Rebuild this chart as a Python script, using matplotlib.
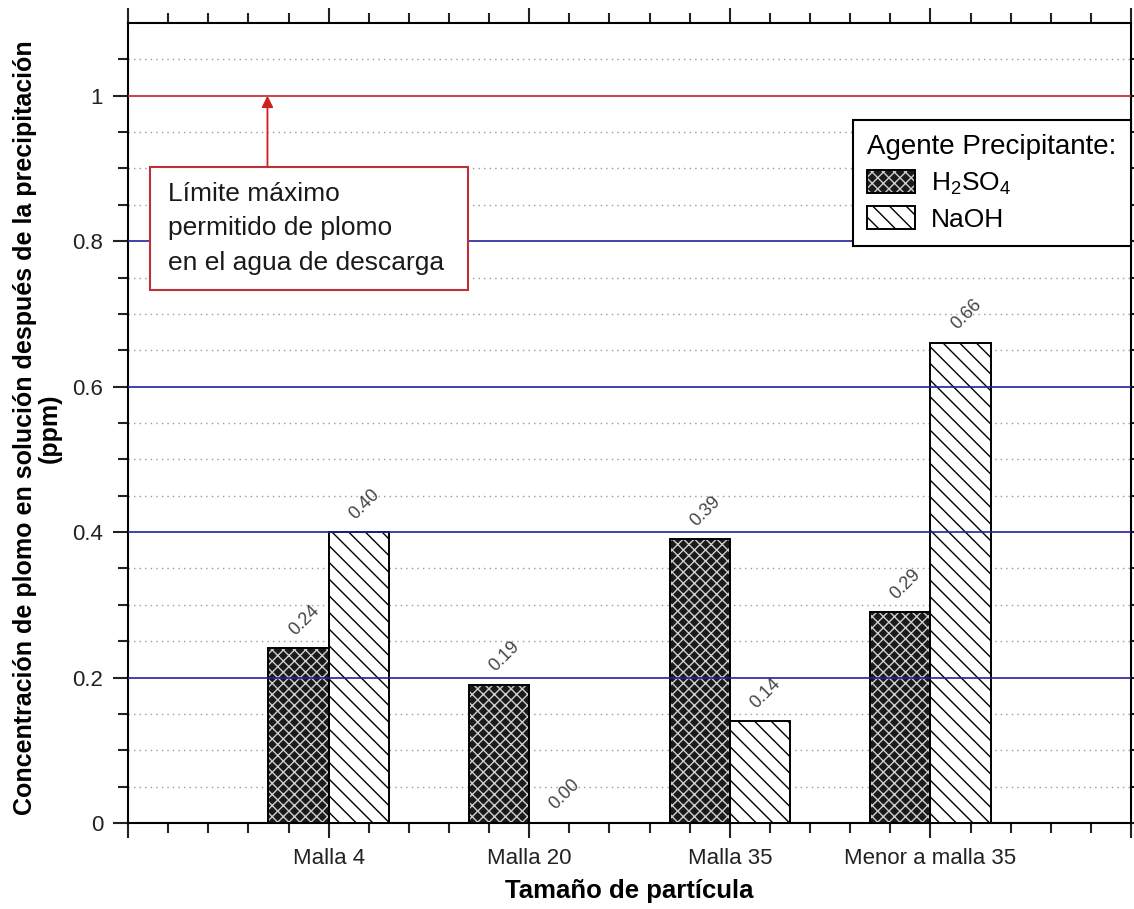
import matplotlib
matplotlib.use('Agg')
import matplotlib.pyplot as plt
from matplotlib.patches import Patch, Rectangle
import numpy as np

# datos
categorias = ['Malla 4', 'Malla 20', 'Malla 35', 'Menor a malla 35']
h2so4 = [0.24, 0.19, 0.39, 0.29]
naoh = [0.40, 0.00, 0.14, 0.66]
limite = 1.0
yticks = [0, 0.2, 0.4, 0.6, 0.8, 1.0]
ytick_labels = ['0', '0.2', '0.4', '0.6', '0.8', '1']

plt.rcParams['font.family'] = ['Liberation Sans', 'DejaVu Sans']
plt.rcParams['mathtext.default'] = 'regular'
plt.rcParams['hatch.linewidth'] = 1.0

fig = plt.figure(figsize=(11.34, 9.09), dpi=100)
ax = fig.add_axes([0.1129, 0.0946, 0.8845, 0.8801])

x = np.arange(len(categorias))
w = 0.3
oscuro = '#1a1a1a'
trama = '#cfcfcf'
rayas = '\\\\'

# H2SO4: fondo oscuro con trama clara, luego el contorno
ax.bar(x - w/2, h2so4, w, color=oscuro, edgecolor=trama, hatch='xxx', linewidth=0, zorder=3)
ax.bar(x - w/2, h2so4, w, fill=False, edgecolor='black', linewidth=1.4, zorder=4)
ax.bar(x + w/2, naoh, w, color='white', edgecolor='black', hatch=rayas, linewidth=1.4, zorder=3)

for xi, v in zip(x - w/2, h2so4):
    ax.annotate(f'{v:.2f}', (xi, v), xytext=(4, 7), textcoords='offset points',
                rotation=45, ha='center', va='bottom', fontsize=13, color='#444444')
for xi, v in zip(x + w/2, naoh):
    ax.annotate(f'{v:.2f}', (xi, v), xytext=(4, 7), textcoords='offset points',
                rotation=45, ha='center', va='bottom', fontsize=13, color='#444444')

ax.set_xlim(-1, len(categorias))
ax.set_ylim(0, 1.1)

ax.set_xticks(np.arange(-1, len(categorias) + 1))
ax.set_xticklabels([''] + categorias + [''])
ax.set_xticks(np.arange(-5, 21) * 0.2, minor=True)
ax.set_yticks(yticks)
ax.set_yticklabels(ytick_labels)
ax.set_yticks(np.arange(1, 22) * 0.05, minor=True)

ax.tick_params(which='both', direction='out', top=True, right=True, width=1.5, labelsize=16, colors='#222222')
ax.tick_params(which='major', length=11, pad=7)
ax.tick_params(which='minor', length=7)
for s in ax.spines.values():
    s.set_linewidth(1.5)

ax.set_axisbelow(True)
ax.yaxis.grid(True, which='minor', linestyle=(0, (1, 3)), color='#9a9a9a', linewidth=1.0)
for yv in yticks[1:-1]:
    ax.axhline(yv, color='#23239b', linewidth=1.2, zorder=5)
ax.axhline(limite, color='#cc2020', linewidth=1.2, zorder=5)

# recuadro del limite
ax.add_patch(Rectangle((-0.89, 0.733), 1.585, 0.169, facecolor='white', edgecolor='#c0303a', linewidth=1.5, zorder=6))
ax.text(-0.80, 0.818, 'Límite máximo\npermitido de plomo\nen el agua de descarga',
        ha='left', va='center', fontsize=19, linespacing=1.55, color='#1a1a1a', zorder=7)
ax.annotate('', xy=(-0.305, limite), xytext=(-0.305, 0.902),
            arrowprops=dict(arrowstyle='-|>', color='#cc2020', lw=1.3, mutation_scale=17, shrinkA=0, shrinkB=0),
            zorder=7)

h1 = (Patch(facecolor=oscuro, edgecolor=trama, hatch='xxx', linewidth=0),
      Patch(fill=False, edgecolor='black', linewidth=1.4))
h2 = Patch(facecolor='white', edgecolor='black', hatch=rayas, linewidth=1.4)
leg = ax.legend([h1, h2], ['H$_2$SO$_4$', 'NaOH'], title='Agente Precipitante:',
                loc='upper right', bbox_to_anchor=(1.0, 0.879), borderaxespad=0,
                fontsize=19, title_fontsize=20, fancybox=False, edgecolor='black',
                framealpha=1, alignment='left', handlelength=1.8, handleheight=1.0,
                labelspacing=0.35, borderpad=0.55, handletextpad=0.6)
leg.get_frame().set_linewidth(1.5)
leg.set_zorder(8)

fig.text(0.555, 0.02, 'Tamaño de partícula', ha='center', va='center', fontsize=18.5, fontweight='bold')
fig.text(0.033, 0.529, 'Concentración de plomo en solución después de la precipitación\n(ppm)',
         ha='center', va='center', rotation=90, fontsize=18, fontweight='bold', linespacing=1.05)

fig.savefig('out.png', dpi=100)
